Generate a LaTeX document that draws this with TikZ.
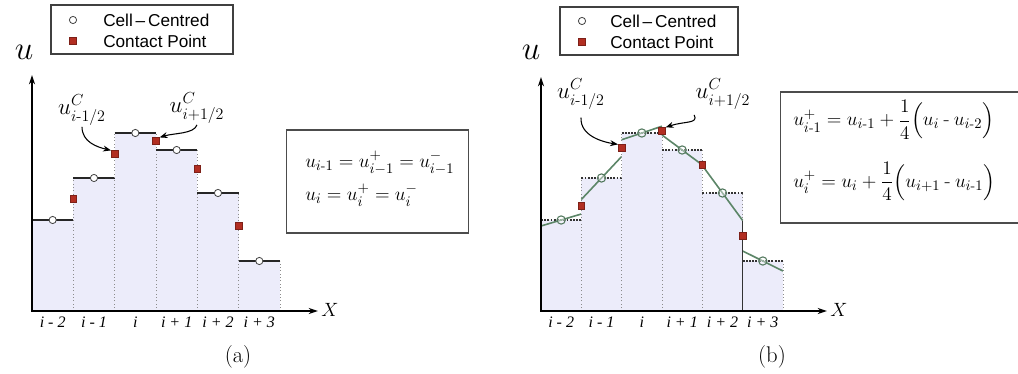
\documentclass[tikz,border=0pt]{standalone}
\usepackage{amsmath,amssymb}
\usepackage{fontspec}
\usetikzlibrary{positioning,calc}
\usetikzlibrary{arrows.meta}
\newfontfamily\legendfont{Liberation Sans}
\newfontfamily\tickfont{Liberation Serif}
\newcommand{\hy}{\mathord{\text{-}}}
\definecolor{CellFill}{RGB}{236,236,250}
\definecolor{ContactRed}{RGB}{178,46,34}
\definecolor{SlopeGreen}{RGB}{92,134,104}
\tikzset{
	cc/.style={circle,draw=black!75,fill=white,inner sep=0pt,minimum size=5.4pt,line width=0.6pt},
	ccb/.style={circle,draw=SlopeGreen!90!black,fill=white,fill opacity=0.4,draw opacity=1,inner sep=0pt,minimum size=6.2pt,line width=0.8pt},
	cp/.style={rectangle,draw=ContactRed!70!black,fill=ContactRed,inner sep=0pt,minimum size=5pt,line width=0.4pt},
	celledge/.style={draw=black!45,dotted,line width=0.5pt},
	flattop/.style={draw=black!85,line width=1.5pt},
	dottop/.style={draw=black!80,line width=1.1pt,dash pattern=on 1.4pt off 1pt},
	slope/.style={draw=SlopeGreen,line width=1.2pt},
	axis/.style={draw=black,line width=1.1pt},
	callout/.style={draw=black,line width=0.8pt,-{Stealth[length=6pt,width=4.5pt]}},
	eqbox/.style={draw=black!70,line width=0.8pt,fill=white},
	eqtext/.style={anchor=west,inner sep=0pt,align=left,font=\fontsize{15}{25}\selectfont},
	legendbox/.style={draw=black!75,line width=0.8pt,fill=white},
	legtext/.style={anchor=west,inner sep=0pt,font=\legendfont\fontsize{12.9}{15}\selectfont},
	ticklbl/.style={inner sep=0pt,font=\tickfont\itshape\fontsize{12}{14}\selectfont},
	clabel/.style={inner sep=1pt,font=\fontsize{17}{20}\selectfont},
	bigu/.style={inner sep=0pt,font=\fontsize{32}{34}\selectfont},
}

\begin{document}
\begin{tikzpicture}[x=0.75pt,y=-0.75pt]
	\fill[white] (0,0) rectangle (1018,374);
	\useasboundingbox (0,0) rectangle (1018,374);

	% (a) piecewise constant
	\foreach \k/\t in {0/220,1/178,2/133,3/150,4/193,5/261}{
		\fill[CellFill] ({32+41.33*\k},311) rectangle ({73.33+41.33*\k},\t);
		\draw[celledge] ({32+41.33*\k},311) -- ({32+41.33*\k},\t) ({73.33+41.33*\k},311) -- ({73.33+41.33*\k},\t);
		\draw[flattop] ({32+41.33*\k},\t) -- ({73.33+41.33*\k},\t);
		\node[cc] (ua\k) at ({52.67+41.33*\k},\t) {};
	}
	\foreach \k/\y in {1/199,2/154,3/141,4/169,5/226}
		\node[cp] (ca\k) at ({32+41.33*\k},\y) {};

	\coordinate (ya) at (32,75);
	\coordinate (oa) at (32,311);
	\coordinate (xa) at (318,311);
	\draw[axis,{Stealth[length=7pt,width=4.5pt]}-{Stealth[length=7pt,width=4.5pt]}] (ya) -- (oa) -- (xa);
	\node[bigu] (una) at (24,52) {$u$};
	\node[inner sep=0pt,font=\fontsize{15}{17}\selectfont] (xna) at (330,310) {$X$};
	\foreach \k/\lab in {0/{i - 2},1/{i - 1},2/{i},3/{i + 1},4/{i + 2},5/{i + 3}}
		\node[ticklbl] (ta\k) at ({52.67+41.33*\k},322) {\lab};

	\node[clabel] (lua) at (82,110) {$u^{C}_{i\hy1/2}$};
	\node[clabel] (rua) at (197,108) {$u^{C}_{i+1/2}$};
	\draw[callout] (lua.south) .. controls (82,142) and (97,147) .. (ca2.north west);
	\draw[callout] (rua.south) .. controls (194,134) and (174,133) .. (ca3.north east);

	\node[legendbox,minimum width=136.5pt,minimum height=36.75pt] (lega) at (142,29.5) {};
	\node[cc] (lca) at (73,20) {};
	\node[cp] (lpa) at (73,41) {};
	\node[legtext] (lta) at (103,20) {Cell\,–\,Centred};
	\node[legtext] (lpta) at (103,41) {Contact Point};

	\node[eqbox,anchor=west,minimum width=136.5pt,minimum height=77.25pt] (framea) at (286,181.5) {};
	\node[eqtext] (eqa) at (305,179)
		{$u_{i\hy1}=u^{+}_{i-1}=u^{-}_{i-1}$\\$u_{i}=u^{+}_{i}=u^{-}_{i}$};
	\node[font=\fontsize{17}{20}\selectfont] (capa) at (238,357) {(a)};

	% (b) linear reconstruction
	\foreach \k/\t/\s in {0/220/6,1/178/21.5,2/133/6.75,3/150/-15,4/193/-27.5,5/261/-10}{
		\fill[CellFill] ({541+40.33*\k},311) rectangle ({581.33+40.33*\k},\t);
		\draw[celledge] ({541+40.33*\k},311) -- ({541+40.33*\k},\t) ({581.33+40.33*\k},311) -- ({581.33+40.33*\k},\t);
		\draw[dottop] ({541+40.33*\k},\t) -- ({581.33+40.33*\k},\t);
		\draw[slope] ({541+40.33*\k},{\t+\s}) -- ({581.33+40.33*\k},{\t-\s});
		\node[ccb] (ub\k) at ({561.17+40.33*\k},\t) {};
	}
	\draw[black!80,line width=0.7pt] (742.7,311) -- (742.7,221);
	\foreach \k/\y in {1/206,2/148,3/131,4/165,5/236}
		\node[cp] (cb\k) at ({541+40.33*\k},\y) {};

	\coordinate (yb) at (541,77);
	\coordinate (ob) at (541,311);
	\coordinate (xb) at (827,311);
	\draw[axis,{Stealth[length=7pt,width=4.5pt]}-{Stealth[length=7pt,width=4.5pt]}] (yb) -- (ob) -- (xb);
	\node[bigu] (unb) at (531,52) {$u$};
	\node[inner sep=0pt,font=\fontsize{15}{17}\selectfont] (xnb) at (839,310) {$X$};
	\foreach \k/\lab in {0/{i - 2},1/{i - 1},2/{i},3/{i + 1},4/{i + 2},5/{i + 3}}
		\node[ticklbl] (tb\k) at ({561.17+40.33*\k},322) {\lab};

	\node[clabel] (lub) at (581,94) {$u^{C}_{i\hy1/2}$};
	\node[clabel] (rub) at (723,94) {$u^{C}_{i+1/2}$};
	\draw[callout] ([yshift=-5pt]lub.south) .. controls (580,136) and (603,142) .. (cb2.north west);
	\draw[callout] ([yshift=-3pt]rub.south west) .. controls (699,124) and (684,121) .. (cb3.north east);

	\node[legendbox,minimum width=133.5pt,minimum height=36pt] (legb) at (649,31) {};
	\node[cc] (lcb) at (582,21) {};
	\node[cp] (lpb) at (582,42) {};
	\node[legtext] (ltb) at (610,21) {Cell\,–\,Centred};
	\node[legtext] (lptb) at (610,42) {Contact Point};

	\node[eqbox,anchor=west,minimum width=195pt,minimum height=98.25pt] (frameb) at (780,157.5) {};
	\node[eqtext] (eqb) at (793,150.5)
		{$u^{+}_{i\hy1}=u_{i\hy1}+\dfrac{1}{4}\Bigl(u_{i}\mathbin{\text{-}}u_{i\hy2}\Bigr)$\\[16pt]
		 $u^{+}_{i}=u_{i}+\dfrac{1}{4}\Bigl(u_{i+1}\mathbin{\text{-}}u_{i\hy1}\Bigr)$};
	\node[font=\fontsize{17}{20}\selectfont] (capb) at (772,357) {(b)};
\end{tikzpicture}
\end{document}
